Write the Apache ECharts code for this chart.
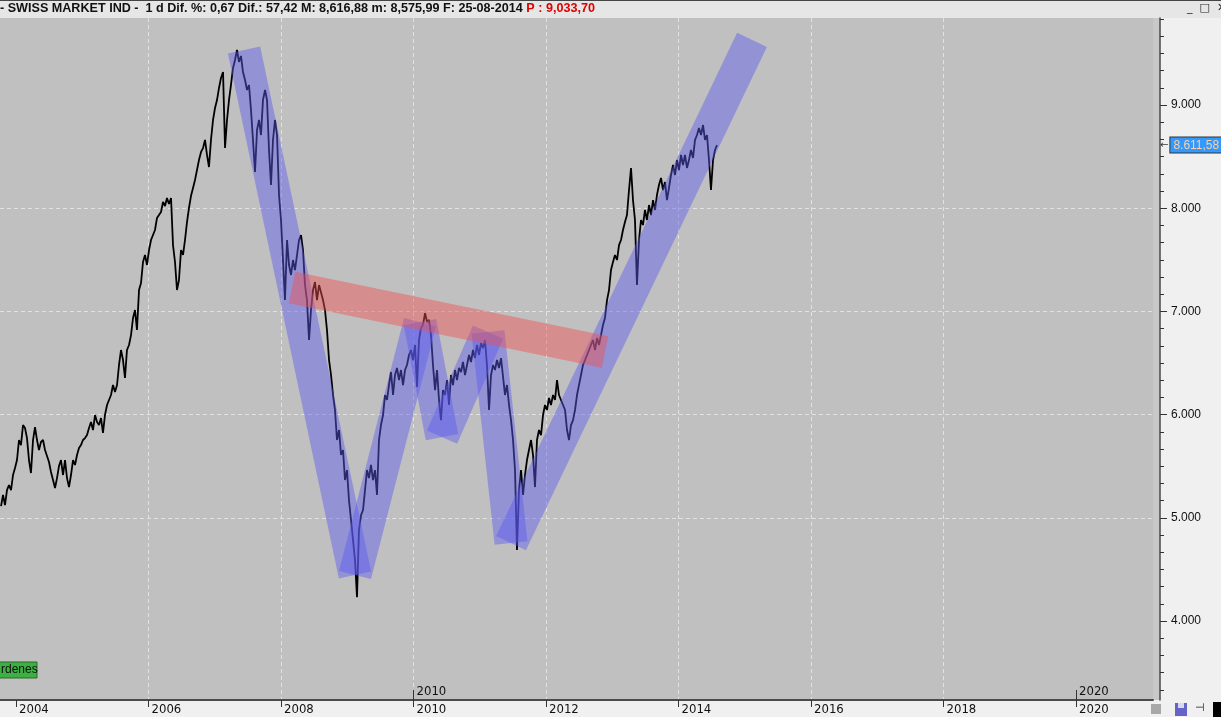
<!DOCTYPE html>
<html><head><meta charset="utf-8">
<script src="https://cdn.jsdelivr.net/npm/echarts@6/dist/echarts.min.js"></script>
<style>html,body{margin:0;padding:0;background:#f0f0f0;overflow:hidden}#c{width:1221px;height:717px}</style>
</head><body><div id="c"></div><script>
// time of each sample, in decimal years
const years = [
2003.774,2003.804,2003.834,2003.864,2003.894,2003.925,2003.955,2003.985,2004.015,2004.045,2004.075,2004.106,2004.136,2004.166,2004.196,2004.226,2004.257,2004.287,2004.317,2004.347,2004.377,2004.408,2004.438,2004.468,2004.498,2004.528,2004.559,2004.589,2004.619,2004.649,2004.679,2004.710,2004.740,2004.770,2004.800,2004.830,2004.861,2004.891,2004.921,2004.951,2004.981,2005.011,2005.042,2005.072,2005.102,2005.132,2005.162,2005.193,2005.223,2005.253,
2005.283,2005.313,2005.343,2005.374,2005.404,2005.434,2005.464,2005.494,2005.525,2005.555,2005.585,2005.615,2005.645,2005.675,2005.706,2005.736,2005.766,2005.796,2005.826,2005.857,2005.887,2005.917,2005.947,2005.977,2006.008,2006.038,2006.068,2006.098,2006.128,2006.158,2006.189,2006.219,2006.249,2006.279,2006.309,2006.340,2006.370,2006.400,2006.430,2006.460,2006.491,2006.521,2006.551,2006.581,2006.611,2006.641,2006.672,2006.702,2006.732,2006.762,
2006.793,2006.823,2006.853,2006.883,2006.913,2006.943,2006.974,2007.004,2007.034,2007.064,2007.094,2007.125,2007.155,2007.185,2007.215,2007.245,2007.276,2007.306,2007.336,2007.366,2007.396,2007.426,2007.457,2007.487,2007.517,2007.547,2007.577,2007.608,2007.638,2007.668,2007.698,2007.728,2007.759,2007.789,2007.819,2007.849,2007.879,2007.909,2007.940,2007.970,2008.000,2008.030,2008.060,2008.091,2008.121,2008.151,2008.181,2008.211,2008.242,2008.272,
2008.302,2008.332,2008.362,2008.392,2008.423,2008.453,2008.483,2008.513,2008.543,2008.574,2008.604,2008.634,2008.664,2008.694,2008.725,2008.755,2008.785,2008.815,2008.845,2008.876,2008.906,2008.936,2008.966,2008.996,2009.026,2009.057,2009.087,2009.117,2009.147,2009.177,2009.208,2009.238,2009.268,2009.298,2009.328,2009.358,2009.389,2009.419,2009.449,2009.479,2009.509,2009.540,2009.570,2009.600,2009.630,2009.660,2009.691,2009.721,2009.751,2009.781,
2009.811,2009.842,2009.872,2009.902,2009.932,2009.962,2009.992,2010.023,2010.053,2010.083,2010.113,2010.143,2010.174,2010.204,2010.234,2010.264,2010.294,2010.325,2010.355,2010.385,2010.415,2010.445,2010.475,2010.506,2010.536,2010.566,2010.596,2010.626,2010.657,2010.687,2010.717,2010.747,2010.777,2010.808,2010.838,2010.868,2010.898,2010.928,2010.958,2010.989,2011.019,2011.049,2011.079,2011.109,2011.140,2011.170,2011.200,2011.230,2011.260,2011.291,
2011.321,2011.351,2011.381,2011.411,2011.442,2011.472,2011.502,2011.532,2011.562,2011.592,2011.623,2011.653,2011.683,2011.713,2011.743,2011.774,2011.804,2011.834,2011.864,2011.894,2011.925,2011.955,2011.985,2012.015,2012.045,2012.075,2012.106,2012.136,2012.166,2012.196,2012.226,2012.257,2012.287,2012.317,2012.347,2012.377,2012.408,2012.438,2012.468,2012.498,2012.528,2012.558,2012.589,2012.619,2012.649,2012.679,2012.709,2012.740,2012.770,2012.800,
2012.830,2012.860,2012.890,2012.921,2012.951,2012.981,2013.011,2013.041,2013.072,2013.102,2013.132,2013.162,2013.192,2013.222,2013.253,2013.283,2013.313,2013.343,2013.373,2013.404,2013.434,2013.464,2013.494,2013.524,2013.555,2013.585,2013.615,2013.645,2013.675,2013.705,2013.736,2013.766,2013.796,2013.826,2013.856,2013.887,2013.917,2013.947,2013.977,2014.007,2014.038,2014.068,2014.098,2014.128,2014.158,2014.188,2014.219,2014.249,2014.279,2014.309,
2014.340,2014.370,2014.400,2014.430,2014.460,2014.490,2014.521,2014.551,2014.581
];
// SMI closing level
const prices = [
5114,5221,5124,5269,5318,5269,5415,5483,5560,5754,5705,5899,5870,5773,5560,5434,5754,5880,5754,5657,5735,5754,5657,5638,5541,5444,5366,5289,5385,5502,5560,5415,5560,5385,5298,5415,5560,5512,5609,5676,5705,5754,5773,5802,5870,5928,5851,5996,5928,5899,
5967,5822,5996,6093,6142,6190,6287,6219,6287,6481,6626,6529,6355,6626,6675,6771,6936,7014,6820,7207,7275,7479,7547,7450,7595,7692,7711,7789,7905,7934,7963,8060,8021,8099,8041,8099,7643,7479,7207,7304,7595,7547,7692,7866,8002,8118,8196,8273,8370,8467,
8545,8583,8661,8516,8399,8661,8855,8971,9048,9165,9262,9320,8583,8855,9048,9194,9359,9436,9533,9417,9475,9320,9242,9145,9194,8952,8661,8351,8758,8855,8709,9048,9145,9048,8564,8225,8661,8855,8709,8128,7886,7498,7110,7692,7450,7353,7498,7401,7547,7692,
7740,7595,7256,7110,6723,7014,7207,7285,7110,7256,7256,7110,7014,6820,6529,6384,6190,6045,5754,5851,5609,5657,5366,5463,5172,4979,4785,4591,4232,4882,5027,5076,5269,5463,5385,5512,5366,5463,5221,5754,5899,5996,6190,6142,6287,6413,6190,6384,6452,6335,
6432,6287,6432,6481,6578,6626,6529,6675,6267,6723,6839,6868,6984,6897,6917,6771,6481,6238,6432,6142,5947,6238,6190,6335,6093,6384,6287,6432,6335,6452,6413,6510,6384,6481,6578,6510,6626,6548,6675,6578,6694,6645,6723,6481,6045,6384,6481,6432,6529,6452,
6548,6529,6190,6287,6093,5947,5754,5463,4688,5269,5463,5221,5415,5560,5657,5754,5609,5298,5754,5851,5802,5996,6093,6045,6161,6093,6190,6142,6335,6190,6142,6093,6045,5851,5754,5899,5947,6045,6190,6287,6384,6481,6529,6578,6626,6675,6723,6626,6742,6675,
6771,6868,6936,7110,7207,7401,7479,7547,7498,7643,7692,7789,7866,7934,8176,8390,8079,7886,7256,7692,7886,7837,7983,7886,8031,7934,8079,7983,8128,8225,8293,8176,8254,8079,8196,8322,8419,8322,8467,8370,8516,8419,8516,8390,8467,8564,8487,8661,8709,8777,
8709,8806,8661,8709,8467,8176,8467,8564,8611.58
];
const yearTicks = [2004, 2006, 2008, 2010, 2012, 2014, 2016, 2018, 2020];
const decadeTicks = [2010, 2020];
const priceTicks = [4000, 5000, 6000, 7000, 8000, 9000];
// blue trend channel turning points
const trendYears = [2007.442, 2009.117, 2010.098, 2010.430, 2011.125, 2011.472, 2015.109];
const trendValues = [9533, 4446, 6897, 5783, 6800, 4756, 9630];
// red neckline
const necklineYears = [2008.166, 2012.891];
const necklineValues = [7232, 6607];
const lastPrice = 8611.58;
const headerText = '- SWISS MARKET IND -  1 d Dif. %: 0,67 Dif.: 57,42 M: 8,616,88 m: 8,575,99 F: 25-08-2014 ';
const headerRed = 'P : 9,033,70';

const xMin = 2003.7585, xMax = 2021.162;
const yMin = 3235, yMax = 9843;

function fmtEu(v) {
  const p = v.toFixed(2).split('.');
  return p[0].replace(/\B(?=(\d{3})+(?!\d))/g, '.') + ',' + p[1];
}
const seriesData = years.map((t, i) => [t, prices[i]]);
const blueSegs = [];
for (let i = 0; i < trendYears.length - 1; i++) {
  blueSegs.push({ coords: [[trendYears[i], trendValues[i]], [trendYears[i + 1], trendValues[i + 1]]] });
}
const redSegs = [{ coords: [[necklineYears[0], necklineValues[0]], [necklineYears[1], necklineValues[1]]] }];

const gridDash = { color: '#e2e2e2', width: 1, type: [4, 3] };
const NARROW = '"Liberation Sans Narrow", "Arial Narrow", "DejaVu Sans Condensed", "Liberation Sans", sans-serif';
const SANS = '"Liberation Sans", Arial, sans-serif';

const chart = echarts.init(document.getElementById('c'), null, { renderer: 'canvas' });
chart.setOption({
  animation: false,
  backgroundColor: '#f0f0f0',
  title: {
    left: 0, top: 2, padding: 0,
    text: '{n|' + headerText + '}{r|' + headerRed + '}',
    textStyle: { rich: {
      n: { fontFamily: SANS, fontSize: 12.6, color: '#111' },
      r: { fontFamily: SANS, fontSize: 12.6, color: '#e00000' }
    } }
  },
  graphic: [
    { type: 'rect', z: -1, shape: { x: 0, y: 0, width: 1221, height: 18 }, style: { fill: '#e6e6e6' } },
    { type: 'rect', z: -1, shape: { x: 0, y: 0, width: 1221, height: 1 }, style: { fill: '#444' } },
    { type: 'rect', z: -1, shape: { x: 1153, y: 18, width: 7, height: 682 }, style: { fill: '#c8c8c8' } },
    { type: 'text', z: 10, left: 1187, top: 3, style: { text: '_  \u25a1  \u2715', font: '11px "DejaVu Sans"', fill: '#222' } },
    { type: 'rect', z: 10, shape: { x: -2, y: 662, width: 39, height: 16 }, style: { fill: '#3cb043', stroke: '#2a6a2a', lineWidth: 1 } },
    { type: 'text', z: 11, left: 1, top: 664, style: { text: 'rdenes', font: '12px ' + SANS, fill: '#111' } },
    { type: 'rect', z: 10, shape: { x: 1151, y: 704, width: 10, height: 10 }, style: { fill: '#a8a8a8' } },
    { type: 'rect', z: 10, shape: { x: 1175, y: 703, width: 12, height: 13 }, style: { fill: '#6464c8' } },
    { type: 'rect', z: 11, shape: { x: 1178, y: 703, width: 6, height: 5 }, style: { fill: '#d8d8f0' } },
    { type: 'text', z: 10, left: 1195, top: 703, style: { text: '\u22a3', font: '11px "DejaVu Sans"', fill: '#222' } },
    { type: 'rect', z: 10, shape: { x: 1213, y: 702, width: 8, height: 15 }, style: { fill: '#000' } }
  ],
  grid: { left: 0, right: 68, top: 18, bottom: 17, show: true, backgroundColor: '#c0c0c0', borderWidth: 0, containLabel: false },
  xAxis: [
    {
      type: 'value', position: 'bottom', min: xMin, max: xMax, minInterval: 2, maxInterval: 2,
      axisLine: { show: true, onZero: false, lineStyle: { color: '#4a4a4a', width: 2 } },
      axisTick: { show: true, length: 7, customValues: yearTicks, lineStyle: { color: '#333' } },
      axisLabel: { customValues: yearTicks, align: 'left', margin: 3,
        padding: [0, 0, 0, 3], color: '#111', fontFamily: NARROW, fontSize: 13, formatter: v => String(Math.round(v)) },
      splitLine: { show: true, showMinLine: false, showMaxLine: false, lineStyle: gridDash }
    },
    {
      type: 'value', position: 'bottom', min: xMin, max: xMax, minInterval: 10, maxInterval: 10,
      axisLine: { show: true, onZero: false, lineStyle: { color: '#4a4a4a', width: 0, opacity: 0 } },
      axisTick: { show: true, inside: true, length: 10, customValues: decadeTicks, lineStyle: { color: '#333', width: 1 } },
      axisLabel: { show: true, inside: true, customValues: decadeTicks,
        align: 'left', margin: 2, padding: [0, 0, 0, 3], color: '#111', fontFamily: NARROW, fontSize: 13,
        formatter: v => String(Math.round(v)) },
      splitLine: { show: false }
    }
  ],
  yAxis: {
    type: 'value', position: 'right', offset: 7, min: yMin, max: yMax, splitNumber: 6, minInterval: 1000, maxInterval: 1000,
    axisLine: { show: true, lineStyle: { color: '#4a4a4a', width: 1.5 } },
    axisTick: { show: true, length: 7, customValues: priceTicks, lineStyle: { color: '#333' } },
    minorTick: { show: true, splitNumber: 6, length: 4, lineStyle: { color: '#333' } },
    axisLabel: { customValues: priceTicks, margin: 11, color: '#111',
      fontFamily: SANS, fontSize: 12, formatter: v => (v / 1000).toFixed(3) },
    splitLine: { show: true, showMinLine: false, showMaxLine: false, lineStyle: gridDash }
  },
  series: [
    {
      type: 'line', name: 'SMI', data: seriesData, xAxisIndex: 0, yAxisIndex: 0,
      showSymbol: false, symbol: 'none', z: 2,
      lineStyle: { color: '#000', width: 1.8 },
      markLine: {
        silent: true, symbol: 'none', animation: false,
        lineStyle: { color: 'rgba(0,0,0,0)', width: 0, type: 'solid' },
        label: {
          show: true, position: 'end', distance: 7,
          formatter: p => '{a|\u2190}{b|' + fmtEu(p.value) + '}',
          rich: {
            a: { fontFamily: '"DejaVu Sans"', fontSize: 10, color: '#333', padding: [0, 2, 0, 0] },
            b: { fontFamily: SANS, fontSize: 12, color: '#ffcf9f', backgroundColor: '#3399ff',
              borderColor: '#333', borderWidth: 1, padding: [2, 4, 1, 3] }
          }
        },
        data: [{ yAxis: lastPrice }]
      }
    },
    {
      type: 'lines', coordinateSystem: 'cartesian2d', xAxisIndex: 0, yAxisIndex: 0, z: 3, silent: true,
      polyline: false, data: blueSegs,
      lineStyle: { color: 'rgb(90,90,240)', opacity: 0.45, width: 33, cap: 'butt', curveness: 0 }
    },
    {
      type: 'lines', coordinateSystem: 'cartesian2d', xAxisIndex: 0, yAxisIndex: 0, z: 3, silent: true,
      polyline: false, data: redSegs,
      lineStyle: { color: 'rgb(240,80,80)', opacity: 0.45, width: 32, cap: 'butt', curveness: 0 }
    }
  ]
});
</script></body></html>
